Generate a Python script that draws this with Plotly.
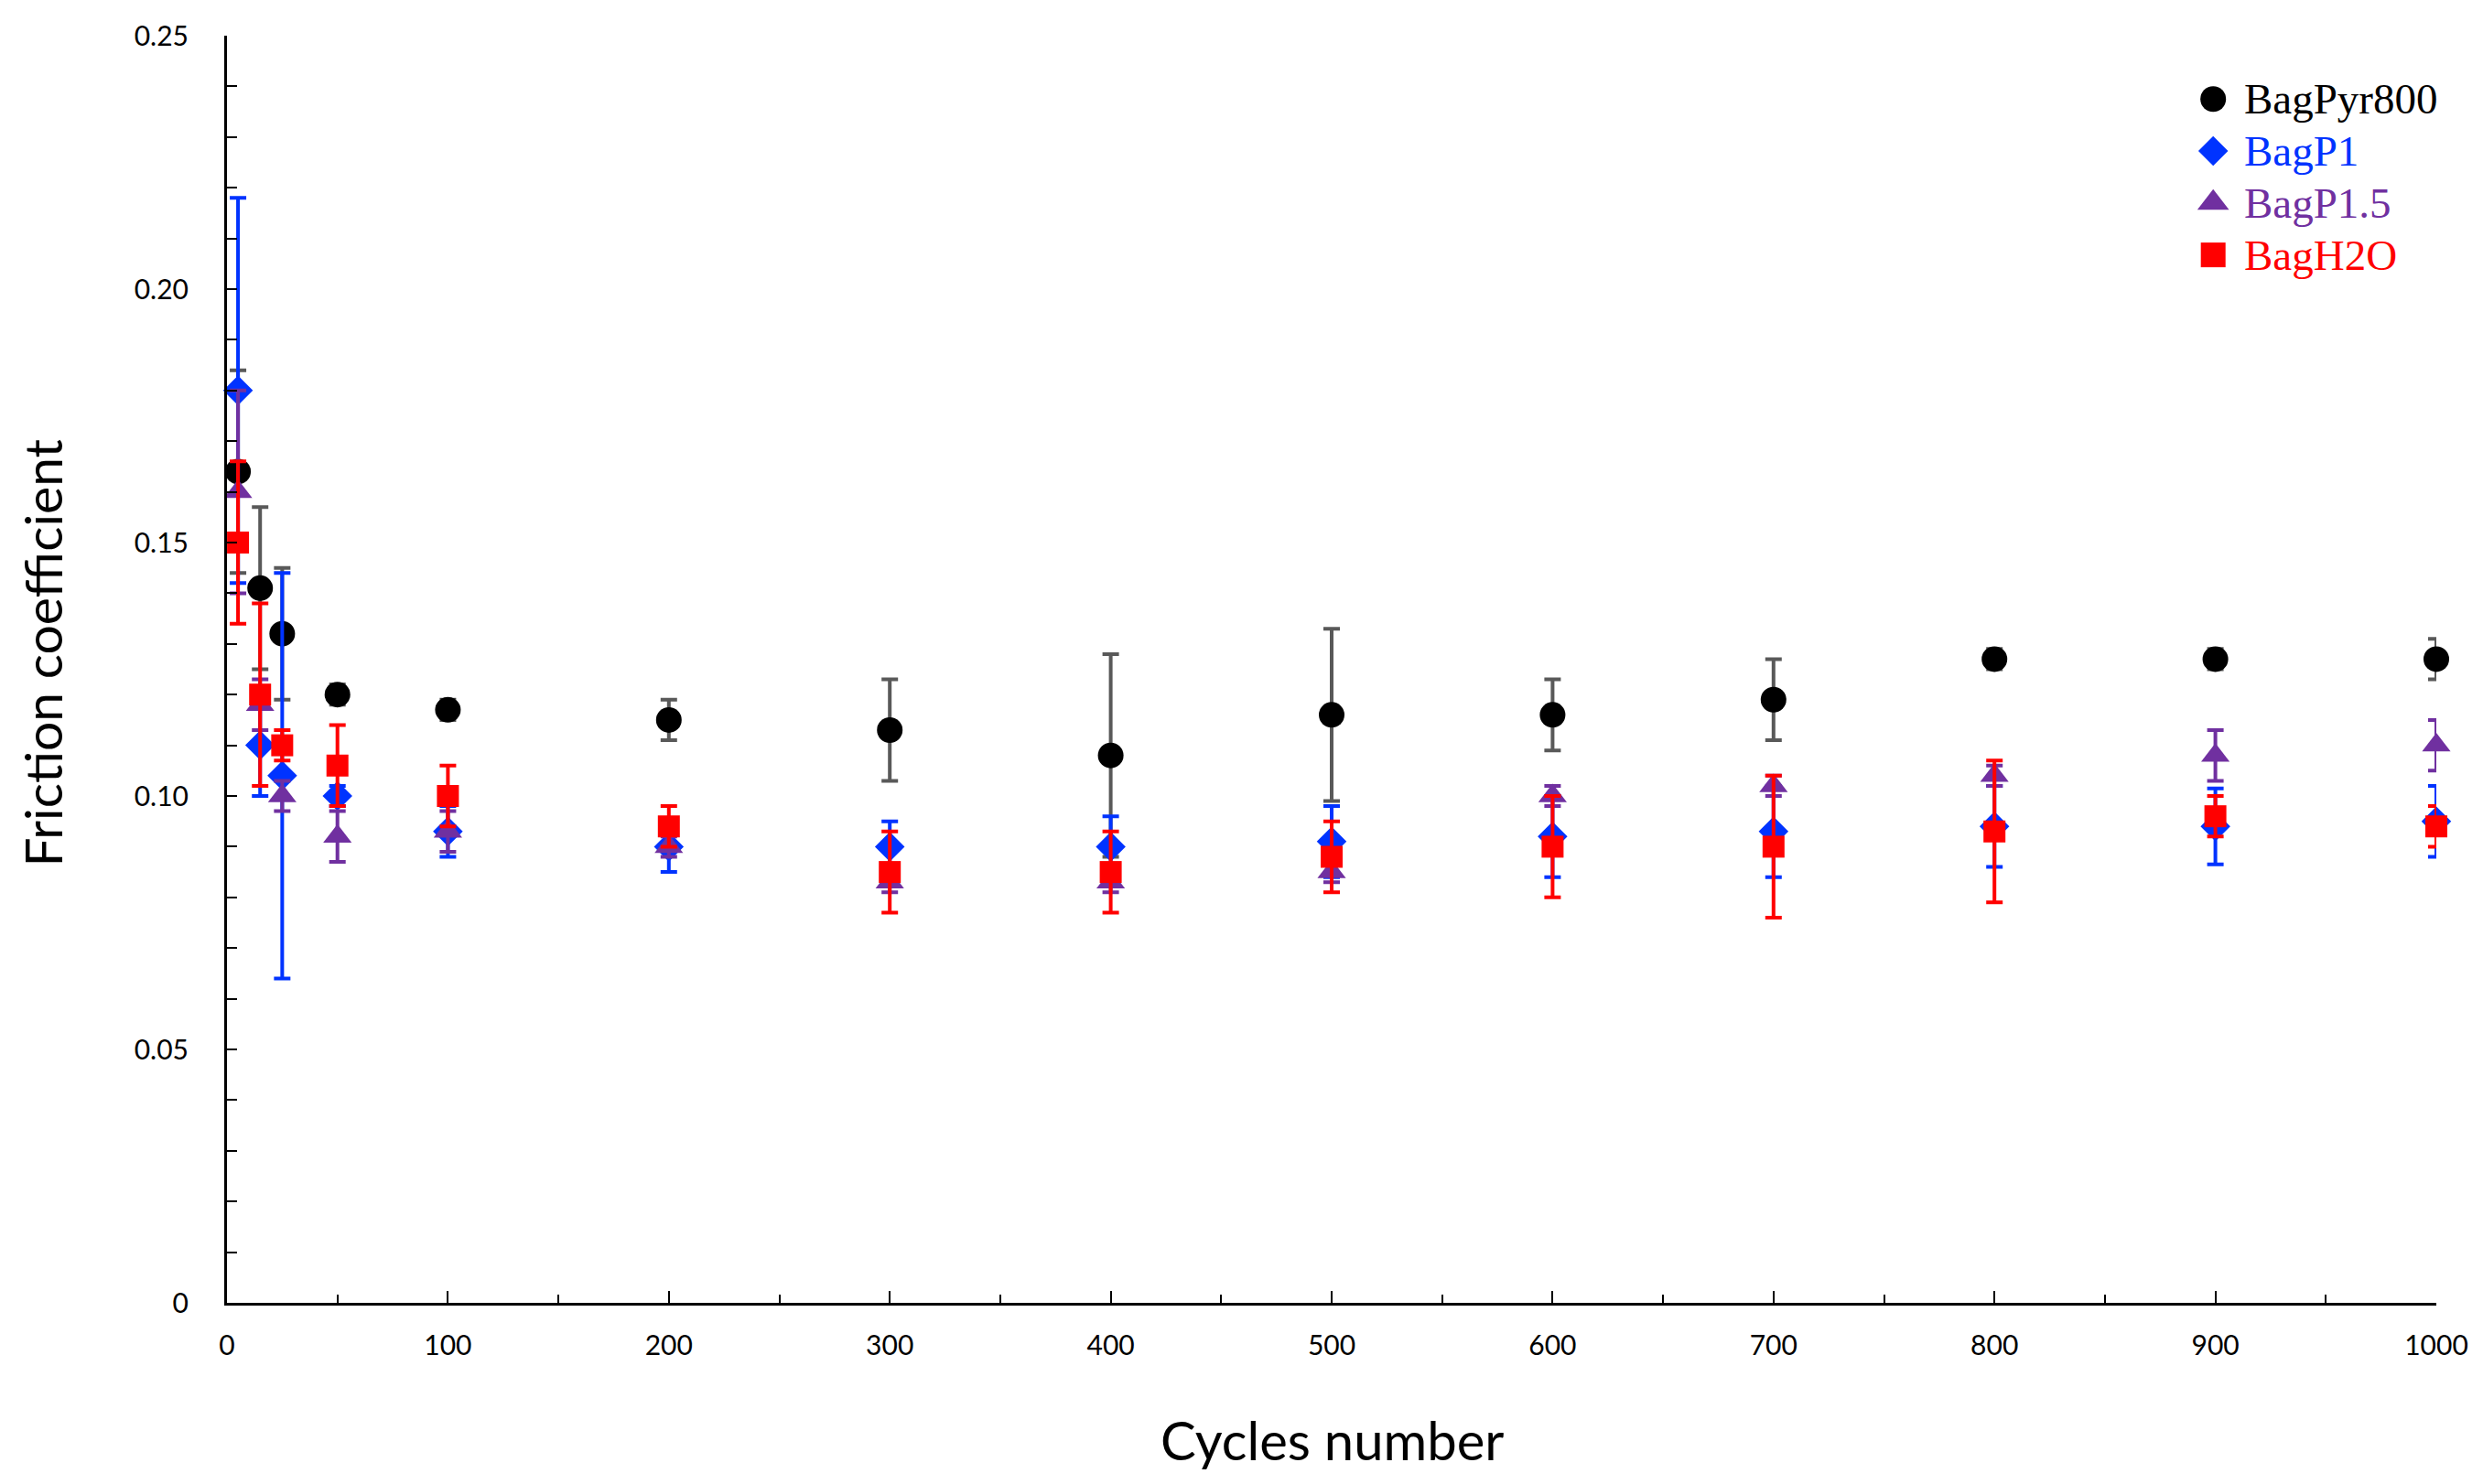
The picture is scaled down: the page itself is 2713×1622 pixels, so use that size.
import plotly.graph_objects as go

# ---------------- data ----------------
cycles = [5, 15, 25, 50, 100, 200, 300, 400, 500, 600, 700, 800, 900, 1000]

bagpyr800 = [0.164, 0.141, 0.132, 0.120, 0.117, 0.115, 0.113, 0.108, 0.116, 0.116, 0.119, 0.127, 0.127, 0.127]
bagpyr800_err = [0.020, 0.016, 0.013, 0.002, 0.002, 0.004, 0.010, 0.020, 0.017, 0.007, 0.008, 0.002, 0.002, 0.004]

bagp1 = [0.180, 0.110, 0.104, 0.100, 0.093, 0.090, 0.090, 0.090, 0.091, 0.092, 0.093, 0.094, 0.094, 0.095]
bagp1_err = [0.038, 0.010, 0.040, 0.002, 0.005, 0.005, 0.005, 0.006, 0.007, 0.008, 0.009, 0.008, 0.0075, 0.007]

bagp15 = [0.160, 0.118, 0.100, 0.092, 0.093, 0.090, 0.083, 0.083, 0.085, 0.100, 0.102, 0.104, 0.108, 0.110]
bagp15_err = [0.020, 0.005, 0.003, 0.005, 0.004, 0.002, 0.002, 0.002, 0.002, 0.002, 0.002, 0.002, 0.005, 0.005]

bagh2o = [0.150, 0.120, 0.110, 0.106, 0.100, 0.094, 0.085, 0.085, 0.088, 0.090, 0.090, 0.093, 0.096, 0.094]
bagh2o_err = [0.016, 0.018, 0.003, 0.008, 0.006, 0.004, 0.008, 0.008, 0.007, 0.010, 0.014, 0.014, 0.004, 0.004]

series_names = ["BagPyr800", "BagP1", "BagP1.5", "BagH2O"]

y_tick_vals = [0, 0.05, 0.10, 0.15, 0.20, 0.25]
y_tick_text = ["0", "0.05", "0.10", "0.15", "0.20", "0.25"]

# ---------------- styles ----------------
colors = ["#000000", "#0033FF", "#7030A0", "#FF0000"]
err_colors = ["#595959", "#0033FF", "#7030A0", "#FF0000"]
symbols = ["circle", "diamond", "triangle-up", "square"]
sizes = [28, 25, 27, 24]
legend_sizes = [28, 25, 30, 27]

values = [bagpyr800, bagp1, bagp15, bagh2o]
errors = [bagpyr800_err, bagp1_err, bagp15_err, bagh2o_err]

fig = go.Figure()

for name, v, e, c, ec, s, sz in zip(series_names, values, errors, colors, err_colors, symbols, sizes):
    fig.add_trace(go.Scatter(
        x=cycles, y=v, mode="markers", name=name, showlegend=False,
        marker=dict(symbol=s, size=sz, color=c, opacity=1, line=dict(width=0)),
        error_y=dict(type="data", array=e, visible=True, color=ec, thickness=4, width=9),
        cliponaxis=False,
    ))

# manual legend (large markers) on an overlay axis in plot-fraction units
leg_x = 0.899
leg_text_x = 0.912
leg_rows = [0.950, 0.909, 0.868, 0.827]
fig.add_trace(go.Scatter(
    x=[leg_x] * 4, y=leg_rows, xaxis="x2", yaxis="y2", mode="markers",
    marker=dict(symbol=symbols, size=legend_sizes, color=colors, opacity=1, line=dict(width=0)),
    showlegend=False, hoverinfo="skip", cliponaxis=False,
))

annotations = []
for name, c, yr in zip(series_names, colors, leg_rows):
    annotations.append(dict(
        text=name, x=leg_text_x, y=yr, xref="paper", yref="paper",
        xanchor="left", yanchor="middle", showarrow=False,
        font=dict(family="Liberation Serif", size=47, color=c),
    ))

annotations.append(dict(
    text="Cycles number", x=0.5, y=0, xref="paper", yref="paper",
    yshift=-149, xanchor="center", yanchor="middle", showarrow=False,
    font=dict(family="Lato", size=58, color="black"),
))
annotations.append(dict(
    text="Friction coefficient", x=0, y=0.5, xref="paper", yref="paper",
    xshift=-203, yshift=18, xanchor="center", yanchor="middle", showarrow=False,
    textangle=-90, font=dict(family="Lato", size=57, color="black"),
))

fig.update_layout(
    width=2713, height=1622,
    margin=dict(l=240, r=59, t=31, b=206),
    plot_bgcolor="white", paper_bgcolor="white",
    showlegend=False,
    annotations=annotations,
    xaxis=dict(
        range=[0, 1000], showline=True, linecolor="black", linewidth=3,
        ticks="inside", ticklen=13, tickwidth=2, tickcolor="black",
        tick0=0, dtick=100, showgrid=False, zeroline=False,
        minor=dict(dtick=50, tick0=0, ticks="inside", ticklen=9, tickwidth=2, tickcolor="black", showgrid=False),
        tickfont=dict(family="Lato", size=30, color="black"),
        ticklabelstandoff=18,
    ),
    yaxis=dict(
        range=[0, 0.25], showline=True, linecolor="black", linewidth=3,
        ticks="inside", ticklen=11, tickwidth=2, tickcolor="black",
        tickvals=y_tick_vals, ticktext=y_tick_text, showgrid=False, zeroline=False,
        minor=dict(dtick=0.01, tick0=0, ticks="inside", ticklen=11, tickwidth=2, tickcolor="black", showgrid=False),
        tickfont=dict(family="Lato", size=30, color="black"),
        ticklabelstandoff=33,
    ),
    xaxis2=dict(overlaying="x", range=[0, 1], visible=False, fixedrange=True),
    yaxis2=dict(overlaying="y", range=[0, 1], visible=False, fixedrange=True),
)

fig.write_html("out.html")
